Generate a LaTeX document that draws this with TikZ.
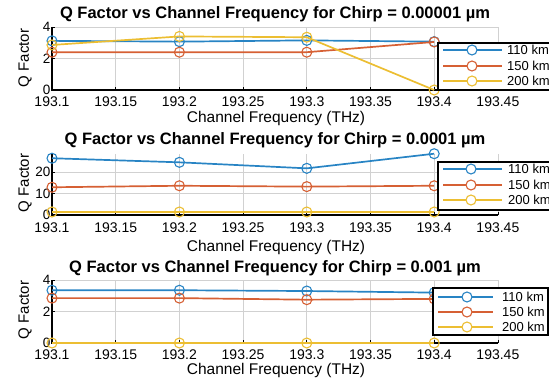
\documentclass[tikz,border=0pt]{standalone}
\usepackage{fontspec}
\setmainfont{Liberation Sans}
\usepackage{xcolor}
\usetikzlibrary{calc,plotmarks}

\definecolor{qblue}{RGB}{40,132,196}
\definecolor{qorange}{RGB}{214,96,52}
\definecolor{qyellow}{RGB}{236,190,50}

% axes, grid and y ticks of one panel (#1 = top of y axis, #2 = y ticks)
\newcommand{\qaxes}[2]{%
  \foreach \t in {0,0.5,...,3.5} {
    \draw[gridln] (\t,0) -- (\t,#1);
    \draw[axln, line width=0.8pt] (\t,0) -- ++(0,3pt);
  }
  \foreach \v in {#2} {
    \draw[gridln] (0,\v) -- (3.5,\v);
    \draw[axln, line width=0.8pt] (0,\v) -- ++(3pt,0);
    \node[ytick] at (0,\v) {\v};
  }
  \draw[axln] (0,#1) -- (0,0) -- (3.5,0);
}

% x tick labels below the axis line at height #1 (picture pixels)
\newcommand{\qxticks}[1]{%
  \foreach \t/\lab in {0/193.1,0.5/193.15,1/193.2,1.5/193.25,2/193.3,2.5/193.35,3/193.4,3.5/193.45}
    \node[xtick] at ({52+127.4*\t},#1) {\lab};
}

% one data series: colour, points
\newcommand{\qseries}[2]{%
  \draw[curve, #1] plot coordinates {#2};
  \draw[#1] plot[only marks, mark=o, mark size=5pt, mark options={line width=1.1pt}] coordinates {#2};
}

\begin{document}
\begin{tikzpicture}[x=1pt, y=-1pt,
    gridln/.style={draw=black!18, line width=0.7pt},
    axln/.style={draw=black, line width=1.3pt},
    curve/.style={line width=1.7pt},
    mk/.style={line width=1.1pt},
    ytick/.style={anchor=east, inner sep=1.5pt, font=\fontsize{13.5}{13.5}\selectfont},
    xtick/.style={inner sep=0pt, font=\fontsize{14}{14}\selectfont},
    ttl/.style={font=\fontsize{16.5}{16.5}\selectfont\bfseries},
    xlab/.style={font=\fontsize{15.5}{15.5}\selectfont},
    ylab/.style={font=\fontsize{15}{15}\selectfont, rotate=90},
    legbox/.style={draw=black, fill=white, line width=1.3pt},
    legtext/.style={anchor=west, inner sep=0pt, font=\fontsize{13}{13}\selectfont}
]
\useasboundingbox (0,0) rectangle (549,385);

% ---------- panel 1 ----------
\node[ttl] (title1) at (275,14) {Q Factor vs Channel Frequency for Chirp = 0.00001 µm};
\begin{scope}[shift={(52,90)}, x=127.4pt, y=15.75pt]
  \qaxes{4}{0,2,4}
  \qseries{qblue}{(0,3.12) (1,3.07) (2,3.15) (3,3.07)}
  \qseries{qorange}{(0,2.4) (1,2.4) (2,2.4) (3,3.05)}
  \qseries{qyellow}{(0,2.86) (1,3.4) (2,3.35) (3,0)}
\end{scope}
\qxticks{102}
\node[xlab] (xlab1) at (276,118) {Channel Frequency (THz)};
\node[ylab] (ylab1) at (25,58) {Q Factor};
\draw[legbox] (438,43) rectangle (560,90);
\foreach \c/\lab/\yy in {qblue/110 km/50, qorange/150 km/66, qyellow/200 km/81} {
  \draw[curve, \c] (443,\yy) -- (502,\yy);
  \draw[mk, \c, fill=white] (472,\yy) circle (5pt);
  \node[legtext] at (507,\yy) {\lab};
}

% ---------- panel 2 ----------
\node[ttl] (title2) at (275,140) {Q Factor vs Channel Frequency for Chirp = 0.0001 µm};
\begin{scope}[shift={(52,215)}, x=127.4pt, y=2.15pt]
  \qaxes{28.5}{0,10,20}
  \qseries{qblue}{(0,26.4) (1,24.5) (2,21.7) (3,28.5)}
  \qseries{qorange}{(0,12.9) (1,13.6) (2,13.2) (3,13.6)}
  \qseries{qyellow}{(0,1.4) (1,1.4) (2,1.4) (3,1.4)}
\end{scope}
\qxticks{228}
\node[xlab] (xlab2) at (276,247) {Channel Frequency (THz)};
\node[ylab] (ylab2) at (25,183) {Q Factor};
\draw[legbox] (438,162) rectangle (560,210);
\foreach \c/\lab/\yy in {qblue/110 km/169, qorange/150 km/185, qyellow/200 km/200} {
  \draw[curve, \c] (443,\yy) -- (502,\yy);
  \draw[mk, \c, fill=white] (471,\yy) circle (5pt);
  \node[legtext] at (508,\yy) {\lab};
}

% ---------- panel 3 ----------
\node[ttl] (title3) at (275,268) {Q Factor vs Channel Frequency for Chirp = 0.001 µm};
\begin{scope}[shift={(52,343)}, x=127.4pt, y=15.75pt]
  \qaxes{4}{0,2,4}
  \qseries{qblue}{(0,3.35) (1,3.35) (2,3.3) (3,3.2)}
  \qseries{qorange}{(0,2.85) (1,2.85) (2,2.75) (3,2.8)}
  \qseries{qyellow}{(0,0) (1,0) (2,0) (3,0)}
\end{scope}
\qxticks{355}
\node[xlab] (xlab3) at (276,370) {Channel Frequency (THz)};
\node[ylab] (ylab3) at (25,310) {Q Factor};
\draw[legbox] (433,288) rectangle (548,335);
\foreach \c/\lab/\yy in {qblue/110 km/297, qorange/150 km/312, qyellow/200 km/327} {
  \draw[curve, \c] (438,\yy) -- (493,\yy);
  \draw[mk, \c, fill=white] (467,\yy) circle (5pt);
  \node[legtext] at (502,\yy) {\lab};
}
\end{tikzpicture}
\end{document}
